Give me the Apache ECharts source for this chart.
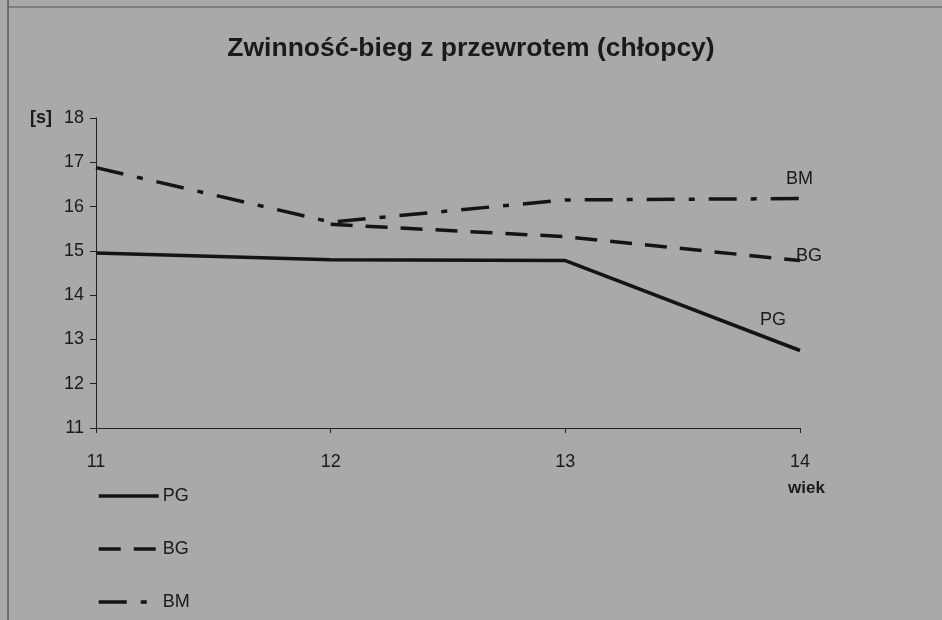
<!DOCTYPE html>
<html>
<head>
<meta charset="utf-8">
<script src="https://cdn.jsdelivr.net/npm/echarts@6/dist/echarts.min.js"></script>
<style>
  html, body { margin: 0; padding: 0; background: #a9a9a9; }
  #chart { width: 942px; height: 620px; }
</style>
</head>
<body>
<div id="chart"></div>
<script>
// wiek (lata)
const ages = ['11', '12', '13', '14'];
// czasy biegu [s]
const pg = [14.95, 14.8, 14.78, 12.75];
const bg = [null, 15.6, 15.32, 14.78];
const bm = [16.88, 15.65, 16.15, 16.18];
const yTicks = [11, 18, 1]; // min, max, krok

const chart = echarts.init(document.getElementById('chart'));

const font = 'Liberation Sans, Arial, sans-serif';
const ink = '#141414';

function lineSeries(name, data, type, labelOffset) {
  return {
    name: name,
    type: 'line',
    data: data,
    symbol: 'none',
    silent: true,
    animation: false,
    itemStyle: { color: ink },
    lineStyle: { color: ink, width: 3.5, type: type },
    endLabel: {
      show: true,
      formatter: '{a}',
      offset: labelOffset,
      fontFamily: font,
      fontSize: 18,
      color: '#1a1a1a'
    }
  };
}

chart.setOption({
  backgroundColor: '#a9a9a9',
  title: {
    text: 'Zwinność-bieg z przewrotem (chłopcy)',
    left: 'center',
    top: 30,
    textStyle: { fontFamily: font, fontSize: 26.5, fontWeight: 'bold', color: '#1a1a1a' }
  },
  graphic: [
    { type: 'line', shape: { x1: 8, y1: 0, x2: 8, y2: 620 }, style: { stroke: '#333', lineWidth: 1 } },
    { type: 'line', shape: { x1: 8, y1: 7, x2: 942, y2: 7 }, style: { stroke: '#555', lineWidth: 1 } }
  ],
  legend: {
    orient: 'vertical',
    left: 92,
    top: 482,
    itemWidth: 60,
    itemHeight: 14,
    itemGap: 35,
    itemStyle: { opacity: 0 },
    lineStyle: { width: 3.5 },
    textStyle: { fontFamily: font, fontSize: 18, color: '#1a1a1a', padding: [0, 0, 0, -1] },
    data: ['PG', 'BG', 'BM']
  },
  grid: { left: 96, right: 142, top: 118, bottom: 192 },
  xAxis: {
    type: 'category',
    data: ages,
    boundaryGap: false,
    name: 'wiek',
    nameLocation: 'end',
    nameGap: 0,
    nameMoveOverlap: false,
    nameTextStyle: {
      fontFamily: font, fontSize: 17, fontWeight: 'bold', color: '#1a1a1a',
      align: 'left', verticalAlign: 'top', padding: [52, 0, 0, -12]
    },
    axisLine: { lineStyle: { color: '#222', width: 1 } },
    axisTick: { show: true, length: 5, lineStyle: { color: '#222' } },
    axisLabel: { fontFamily: font, fontSize: 18, color: '#1a1a1a', margin: 25 },
    splitLine: { show: false }
  },
  yAxis: {
    type: 'value',
    min: yTicks[0],
    max: yTicks[1],
    interval: yTicks[2],
    name: '[s]',
    nameLocation: 'end',
    nameGap: 0,
    nameMoveOverlap: false,
    nameTextStyle: {
      fontFamily: font, fontSize: 18, fontWeight: 'bold', color: '#1a1a1a',
      align: 'right', verticalAlign: 'middle', padding: [0, 44, 0, 0]
    },
    axisLine: { show: true, lineStyle: { color: '#222', width: 1 } },
    axisTick: { show: true, length: 6, lineStyle: { color: '#222' } },
    axisLabel: { fontFamily: font, fontSize: 18, color: '#1a1a1a', margin: 12 },
    splitLine: { show: false }
  },
  series: [
    lineSeries('PG', pg, 'solid', [-48, -30]),
    lineSeries('BG', bg, [22, 13], [-12, -5]),
    lineSeries('BM', bm, [28, 14, 6, 14], [-22, -20])
  ]
});
</script>
</body>
</html>
